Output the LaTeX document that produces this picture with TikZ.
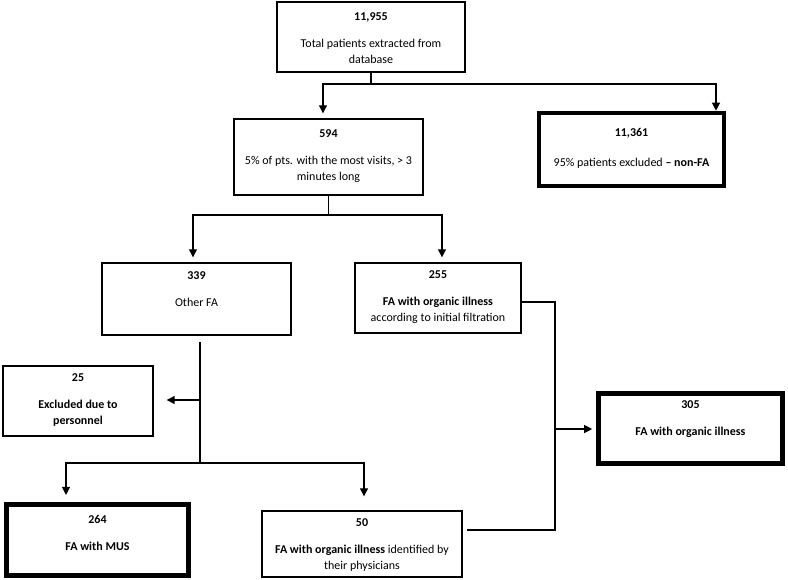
\documentclass[tikz,border=0pt]{standalone}
\usepackage{fontspec}
\setmainfont{Carlito}
\usetikzlibrary{arrows.meta}
\begin{document}
\begin{tikzpicture}[x=1pt,y=-1pt,
  box/.style={draw,line width=1.4pt,inner sep=0pt},
  thickbox/.style={draw,line width=4.6pt,inner sep=0pt},
  txt/.style={align=center,inner sep=0pt,font=\fontsize{12}{16}\selectfont},
  conn/.style={line width=1.2pt},
  arr/.style={line width=1.2pt,-{Triangle[length=8pt,width=8pt]}}]
\useasboundingbox (0,0) rectangle (788,579);
% boxes
\node[box,minimum width=188pt,minimum height=70pt] (b1) at (371,37) {};
\node[box,minimum width=189pt,minimum height=76pt] (b594) at (328.5,157) {};
\node[thickbox,minimum width=185pt,minimum height=73pt] (b11361) at (631.5,149.5) {};
\node[box,minimum width=189pt,minimum height=72pt] (b339) at (196.5,299) {};
\node[box,minimum width=166pt,minimum height=70pt] (b255) at (438,298) {};
\node[box,minimum width=150pt,minimum height=70pt] (b25) at (78,401) {};
\node[thickbox,minimum width=184pt,minimum height=70pt] (b305) at (690.5,428.5) {};
\node[thickbox,minimum width=182pt,minimum height=71.5pt] (b264) at (97.5,540) {};
\node[box,minimum width=200pt,minimum height=66pt] (b50) at (362,544) {};
% texts
\node[txt] (t1) at (371,38) {\textbf{11,955}\\[11pt]Total patients extracted from\\database};
\node[txt] (t594) at (328.5,156) {\textbf{594}\\[11pt]5\% of pts. with the most visits, > 3\\minutes long};
\node[txt] (t11361) at (631.5,148) {\textbf{11,361}\\[14pt]95\% patients excluded \textbf{– non-FA}};
\node[txt] (t339) at (196.5,289) {\textbf{339}\\[11pt]Other FA};
\node[txt] (t255) at (438,297) {\textbf{255}\\[11pt]\textbf{FA with organic illness}\\according to initial filtration};
\node[txt] (t25) at (78,400) {\textbf{25}\\[11pt]\textbf{Excluded due to}\\\textbf{personnel}};
\node[txt] (t305) at (690.5,419) {\textbf{305}\\[11pt]\textbf{FA with organic illness}};
\node[txt] (t264) at (97.5,532.5) {\textbf{264}\\[11pt]\textbf{FA with MUS}};
\node[txt] (t50) at (362,545) {\textbf{50}\\[11pt]\textbf{FA with organic illness} identified by\\their physicians};
% junctions
\coordinate (j1) at (371,84);
\coordinate (j2) at (328.5,215);
\coordinate (j3a) at (200,342);
\coordinate (j3) at (200,463);
\coordinate (j3m) at (200,400);
\coordinate (j5a) at (555,302);
\coordinate (j5b) at (555,530);
\coordinate (j5m) at (555,429);
% connectors
\draw[conn] (b1.south) -- (j1);
\draw[arr,shorten >=5pt] (j1) -| ([xshift=-5.5pt]b594.north);
\draw[arr] (j1) -| ([xshift=84.5pt]b11361.north);
\draw[conn] (b594.south) -- (j2);
\draw[arr,shorten >=5pt] (j2) -| ([xshift=-3.5pt]b339.north);
\draw[arr,shorten >=5pt] (j2) -| ([xshift=4pt]b255.north);
\draw[conn] (j3a) -- (j3);
\draw[arr,shorten >=13pt] (j3m) -- (b25.east |- j3m);
\draw[arr,shorten >=7pt] (j3) -| ([xshift=-31.5pt]b264.north);
\draw[arr,shorten >=14pt] (j3) -| ([xshift=2pt]b50.north);
\draw[conn] (b255.east |- j5a) -- (j5a) -- (j5b) -- ([xshift=4pt]b50.east |- j5b);
\draw[arr,shorten >=4pt] (j5m) -- (b305.west |- j5m);
\end{tikzpicture}
\end{document}
